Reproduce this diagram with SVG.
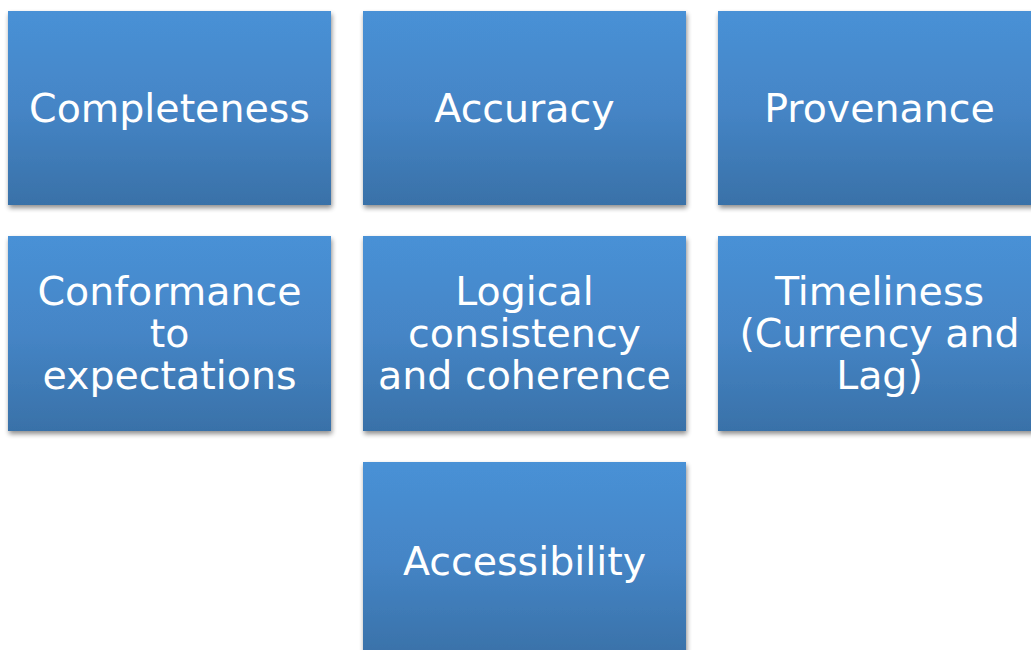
<svg xmlns="http://www.w3.org/2000/svg" width="1031" height="650" viewBox="0 0 1031 650">
<defs>
<linearGradient id="g" x1="0" y1="0" x2="0" y2="1">
<stop offset="0" stop-color="#4891d6"/>
<stop offset="0.5" stop-color="#4585c6"/>
<stop offset="1" stop-color="#3971a8"/>
</linearGradient>
<filter id="sh" x="-10%" y="-10%" width="120%" height="125%">
<feGaussianBlur in="SourceAlpha" stdDeviation="2.5"/>
<feOffset dx="1" dy="3" result="b"/>
<feComponentTransfer><feFuncA type="linear" slope="0.45"/></feComponentTransfer>
<feMerge><feMergeNode/><feMergeNode in="SourceGraphic"/></feMerge>
</filter>
</defs>
<style>
.box{fill:url(#g);filter:url(#sh)}
.t{font-family:"DejaVu Sans",Verdana,sans-serif;font-size:39.5px;fill:#ffffff;text-anchor:middle}
</style>
<rect width="1031" height="650" fill="#ffffff"/>
<g id="connectors"/>
<g id="completeness"><rect class="box" x="8" y="11" width="323" height="194"/><text class="t" x="169.5" y="122">Completeness</text></g>
<g id="accuracy"><rect class="box" x="363" y="11" width="323" height="194"/><text class="t" x="524.5" y="122">Accuracy</text></g>
<g id="provenance"><rect class="box" x="718" y="11" width="323" height="194"/><text class="t" x="879.5" y="122">Provenance</text></g>
<g id="conformance"><rect class="box" x="8" y="236" width="323" height="195"/><text class="t" x="169.5" y="305">Conformance</text><text class="t" x="169.5" y="347">to</text><text class="t" x="169.5" y="389">expectations</text></g>
<g id="logical"><rect class="box" x="363" y="236" width="323" height="195"/><text class="t" x="524.5" y="305">Logical</text><text class="t" x="524.5" y="347">consistency</text><text class="t" x="524.5" y="389">and coherence</text></g>
<g id="timeliness"><rect class="box" x="718" y="236" width="323" height="195"/><text class="t" x="879.5" y="305">Timeliness</text><text class="t" x="879.5" y="347">(Currency and</text><text class="t" x="879.5" y="389">Lag)</text></g>
<g id="accessibility"><rect class="box" x="363" y="462" width="323" height="195"/><text class="t" x="524.5" y="575">Accessibility</text></g>
</svg>
